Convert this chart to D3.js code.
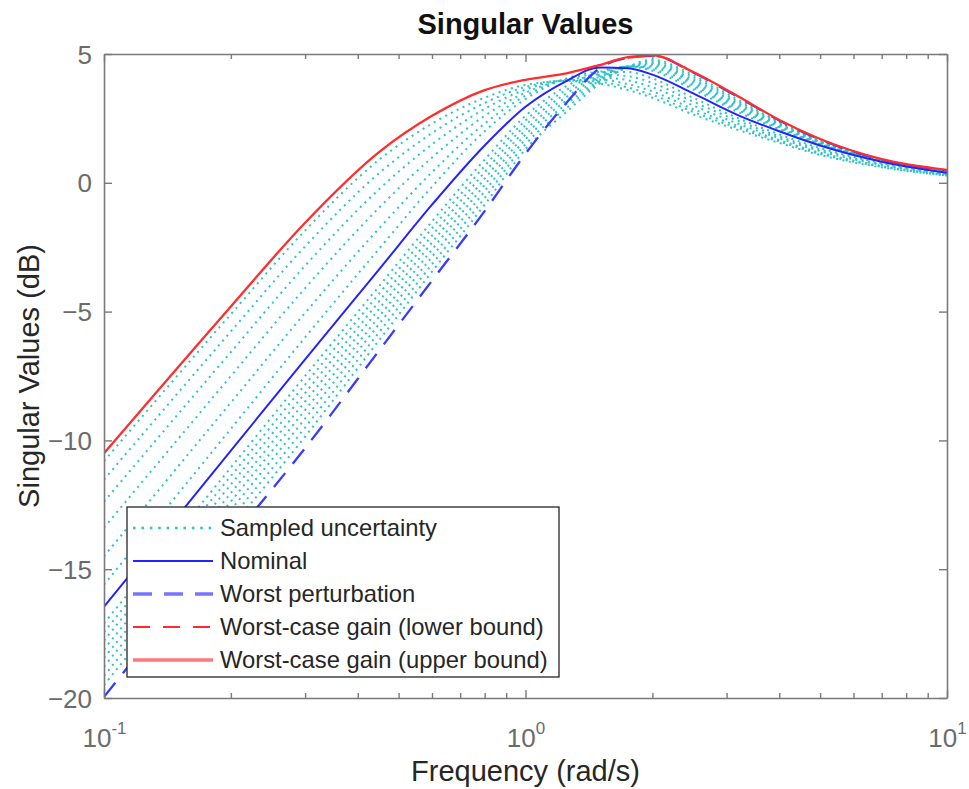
<!DOCTYPE html>
<html><head><meta charset="utf-8">
<script src="https://cdn.jsdelivr.net/npm/d3@7"></script>
<style>body{margin:0;background:#fff}svg{display:block}</style>
</head><body>
<svg id="chart" width="969" height="789"></svg>
<script>
// ---------- data ----------
const freq = [0.1, 0.2, 0.3, 0.45, 0.6, 0.8, 1.0, 1.25, 1.5, 1.75, 2.0, 2.5, 3.2, 4.0, 5.0, 7.0, 10];

const sampled1  = [-10.8, -5.1, -1.85, 0.9, 2.3, 3.3, 3.8, 3.95, 3.85, 3.6, 3.3, 2.65, 2.05, 1.55, 1.08, 0.6, 0.28];
const sampled2  = [-11.52, -5.77, -2.47, 0.38, 1.93, 3.1, 3.72, 3.97, 3.92, 3.7, 3.41, 2.75, 2.12, 1.6, 1.12, 0.62, 0.29];
const sampled3  = [-12.38, -6.57, -3.22, -0.24, 1.49, 2.87, 3.62, 3.98, 4.0, 3.83, 3.55, 2.86, 2.2, 1.66, 1.17, 0.65, 0.3];
const sampled4  = [-13.39, -7.5, -4.09, -0.96, 0.98, 2.6, 3.5, 4.0, 4.09, 3.98, 3.71, 3.0, 2.29, 1.73, 1.23, 0.69, 0.32];
const sampled5  = [-14.5, -8.53, -5.05, -1.76, 0.41, 2.3, 3.38, 4.03, 4.2, 4.14, 3.88, 3.15, 2.4, 1.8, 1.29, 0.72, 0.33];
const sampled6  = [-15.6, -9.55, -6.0, -2.55, -0.15, 2.0, 3.25, 4.05, 4.3, 4.3, 4.05, 3.3, 2.5, 1.88, 1.35, 0.76, 0.35];
const sampled7  = [-17.1, -11.05, -7.5, -4.0, -1.5, 0.9, 2.6, 3.75, 4.3, 4.52, 4.35, 3.62, 2.74, 2.08, 1.5, 0.85, 0.41];
const sampled8  = [-17.44, -11.38, -7.83, -4.29, -1.77, 0.65, 2.42, 3.61, 4.24, 4.52, 4.41, 3.7, 2.81, 2.12, 1.52, 0.85, 0.42];
const sampled9  = [-17.77, -11.71, -8.16, -4.59, -2.05, 0.41, 2.24, 3.47, 4.17, 4.51, 4.47, 3.78, 2.87, 2.16, 1.54, 0.86, 0.42];
const sampled10 = [-18.11, -12.04, -8.49, -4.88, -2.32, 0.16, 2.05, 3.33, 4.11, 4.51, 4.53, 3.86, 2.94, 2.2, 1.55, 0.86, 0.43];
const sampled11 = [-18.44, -12.37, -8.82, -5.18, -2.59, -0.08, 1.87, 3.19, 4.05, 4.51, 4.59, 3.93, 3.01, 2.24, 1.57, 0.87, 0.44];
const sampled12 = [-18.78, -12.7, -9.15, -5.47, -2.87, -0.33, 1.69, 3.05, 3.98, 4.51, 4.65, 4.01, 3.08, 2.28, 1.59, 0.87, 0.45];
const sampled13 = [-19.14, -13.05, -9.5, -5.79, -3.16, -0.59, 1.5, 2.9, 3.92, 4.5, 4.72, 4.1, 3.15, 2.32, 1.61, 0.88, 0.45];
const sampled14 = [-19.5, -13.4, -9.85, -6.1, -3.45, -0.85, 1.3, 2.75, 3.85, 4.5, 4.78, 4.18, 3.22, 2.36, 1.63, 0.88, 0.46];

const nominal           = [-16.46, -10.4, -6.85, -3.35, -0.85, 1.45, 2.95, 3.95, 4.48, 4.45, 4.2, 3.47, 2.62, 2.0, 1.45, 0.82, 0.39];
const worstPerturbation = [-19.95, -13.85, -10.3, -6.5, -3.8, -1.1, 1.13, 3.1, 4.45, 4.85, 4.93, 4.28, 3.32, 2.42, 1.68, 0.9, 0.48];
const upperBound        = [-10.5, -4.8, -1.55, 1.2, 2.6, 3.6, 4.0, 4.25, 4.57, 4.88, 4.95, 4.3, 3.35, 2.44, 1.7, 0.92, 0.5];
const lowerBoundFreq    = [1.75, 2.0, 2.5];
const lowerBound        = [4.85, 4.93, 4.28];

const yTickValues = [5, 0, -5, -10, -15, -20];
const xTickExponents = [-1, 0, 1];
const legendLabels = ["Sampled uncertainty", "Nominal", "Worst perturbation",
                      "Worst-case gain (lower bound)", "Worst-case gain (upper bound)"];

const sampledCurves = [sampled1, sampled2, sampled3, sampled4, sampled5, sampled6, sampled7,
                       sampled8, sampled9, sampled10, sampled11, sampled12, sampled13, sampled14];

// ---------- layout ----------
const FONT = "'Liberation Sans', Arial, Helvetica, sans-serif";
const box = {left: 104, right: 947, top: 54, bottom: 698};
const svg = d3.select("#chart").style("font-family", FONT);
svg.append("rect").attr("width", 969).attr("height", 789).attr("fill", "#fff");

const x = d3.scaleLog().domain([0.1, 10]).range([box.left, box.right]);
const y = d3.scaleLinear().domain([-20, 5]).range([box.bottom, box.top]);

const AXIS_COLOR = "#7a7a7a";
const TICK_TEXT = "#6b6b6b";

svg.append("clipPath").attr("id", "plotclip").append("rect")
  .attr("x", box.left).attr("y", box.top)
  .attr("width", box.right - box.left).attr("height", box.bottom - box.top);

const plot = svg.append("g").attr("clip-path", "url(#plotclip)");

const line = d3.line()
  .x(d => x(d[0])).y(d => y(d[1]))
  .curve(d3.curveMonotoneX);
const pts = (fs, vs) => fs.map((f, i) => [f, vs[i]]);

// sampled uncertainty (cyan dotted)
sampledCurves.forEach(c => {
  plot.append("path").attr("d", line(pts(freq, c)))
    .attr("fill", "none").attr("stroke", "#2ec4c4")
    .attr("stroke-width", 2).attr("stroke-dasharray", "2,4.5");
});
// nominal
plot.append("path").attr("d", line(pts(freq, nominal)))
  .attr("fill", "none").attr("stroke", "#2323ff").attr("stroke-width", 2);
// worst perturbation
plot.append("path").attr("d", line(pts(freq, worstPerturbation)))
  .attr("fill", "none").attr("stroke", "#3a3aff").attr("stroke-width", 2.3)
  .attr("stroke-dasharray", "18,12");
// lower bound
plot.append("path").attr("d", line(pts(lowerBoundFreq, lowerBound)))
  .attr("fill", "none").attr("stroke", "#ff2a2a").attr("stroke-width", 2)
  .attr("stroke-dasharray", "17,12");
// upper bound
plot.append("path").attr("d", line(pts(freq, upperBound)))
  .attr("fill", "none").attr("stroke", "#ff2d2d").attr("stroke-width", 2.3);

// ---------- axes ----------
const majors = xTickExponents.map(e => Math.pow(10, e));
const minors = [];
for (let e = xTickExponents[0]; e < xTickExponents[xTickExponents.length - 1]; e++)
  for (let k = 2; k < 10; k++) minors.push(k * Math.pow(10, e));

function styleAxis(g) {
  g.selectAll("path.domain").attr("stroke", AXIS_COLOR).attr("stroke-width", 1.6);
  g.selectAll(".tick line").attr("stroke", AXIS_COLOR).attr("stroke-width", 1.4);
}

// bottom major
const gb = svg.append("g").attr("transform", `translate(0,${box.bottom})`)
  .call(d3.axisBottom(x).tickValues(majors).tickSizeInner(-8).tickSizeOuter(0).tickFormat(""));
styleAxis(gb);
gb.selectAll(".tick text").each(function(d) {
  const t = d3.select(this);
  t.attr("y", 49).attr("dy", null).attr("fill", TICK_TEXT)
   .attr("font-size", 26).attr("font-family", FONT).attr("text-anchor", "middle");
  t.append("tspan").text("10");
  t.append("tspan").attr("dy", -13).attr("font-size", 17).text(String(Math.round(Math.log10(d))));
});
// bottom minor
const gbm = svg.append("g").attr("transform", `translate(0,${box.bottom})`)
  .call(d3.axisBottom(x).tickValues(minors).tickSizeInner(-5).tickSizeOuter(0).tickFormat(""));
gbm.select("path.domain").remove();
styleAxis(gbm);
// top major + minor
const gt = svg.append("g").attr("transform", `translate(0,${box.top})`)
  .call(d3.axisTop(x).tickValues(majors).tickSizeInner(-8).tickSizeOuter(0).tickFormat(""));
styleAxis(gt);
const gtm = svg.append("g").attr("transform", `translate(0,${box.top})`)
  .call(d3.axisTop(x).tickValues(minors).tickSizeInner(-5).tickSizeOuter(0).tickFormat(""));
gtm.select("path.domain").remove();
styleAxis(gtm);
// left
const gl = svg.append("g").attr("transform", `translate(${box.left},0)`)
  .call(d3.axisLeft(y).tickValues(yTickValues).tickSizeInner(-8).tickSizeOuter(0)
        .tickPadding(12).tickFormat(d3.format("d")));
styleAxis(gl);
gl.selectAll(".tick text").attr("font-size", 26).attr("font-family", FONT)
  .attr("fill", TICK_TEXT).attr("dy", "0.35em");
// right
const gr = svg.append("g").attr("transform", `translate(${box.right},0)`)
  .call(d3.axisRight(y).tickValues(yTickValues).tickSizeInner(-8).tickSizeOuter(0).tickFormat(""));
styleAxis(gr);

// ---------- labels ----------
svg.append("text").attr("x", (box.left + box.right) / 2).attr("y", 34)
  .attr("text-anchor", "middle").attr("font-size", 29).attr("font-weight", "bold")
  .attr("fill", "#111").text("Singular Values");
svg.append("text").attr("x", (box.left + box.right) / 2).attr("y", 781)
  .attr("text-anchor", "middle").attr("font-size", 29).attr("fill", "#262626")
  .text("Frequency (rad/s)");
svg.append("text").attr("transform", `translate(39,${(box.top + box.bottom) / 2}) rotate(-90)`)
  .attr("text-anchor", "middle").attr("font-size", 29).attr("fill", "#262626")
  .text("Singular Values (dB)");

// ---------- legend ----------
const lg = svg.append("g");
lg.append("rect").attr("x", 127).attr("y", 507).attr("width", 432).attr("height", 170)
  .attr("fill", "#fff").attr("stroke", "#262626").attr("stroke-width", 1.3);
const legendStyles = [
  {stroke: "#2ec4c4", width: 2.6, dash: "2.6,5.8"},
  {stroke: "#2323ff", width: 2, dash: null},
  {stroke: "#7575ff", width: 3.6, dash: "19,12"},
  {stroke: "#ff2a2a", width: 2, dash: "17,13"},
  {stroke: "#ff7777", width: 3.6, dash: null}
];
legendLabels.forEach((lab, i) => {
  const cy = 528 + i * 33;
  const st = legendStyles[i];
  lg.append("line").attr("x1", 133).attr("x2", 213).attr("y1", cy).attr("y2", cy)
    .attr("stroke", st.stroke).attr("stroke-width", st.width)
    .attr("stroke-dasharray", st.dash);
  lg.append("text").attr("x", 220).attr("y", cy).attr("dy", "0.35em")
    .attr("font-size", 23.8).attr("fill", "#262626").text(lab);
});
</script>
</body></html>
